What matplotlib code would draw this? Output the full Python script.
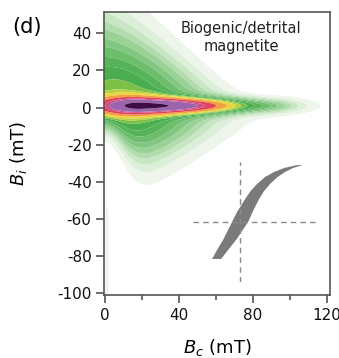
import numpy as np
import matplotlib
matplotlib.use("Agg")
import matplotlib.pyplot as plt

plt.rcParams['font.family'] = ['DejaVu Sans']
plt.rcParams['mathtext.fontset'] = 'dejavusans'

# FORC model: central ridge + broad interaction spread (parameters in mT)
ridge_peak = [20.0, 1.02]     # Bc of the maximum, height
ridge_left_sd = 15.8
ridge_core = [0.8, 47.0]      # plateau height, decay length to the right
ridge_tail = [0.22, 100.0, 7.0]  # long tail height, fade centre, fade width
ridge_width = [3.4, 2.5]      # Bi sigma near peak / far tail
ridge_bi0 = 1.0

broad_amp = 0.45
broad_centre = 8.0
broad_sc = 30.0
broad_up = [28.0, 95.0]        # sigma at Bc=0, Bc where it vanishes
broad_low = [18.0, 22.0, 110.0]
low_pinch = [0.65, 14.0]

strip_amp = 0.03

levels = [0.02, 0.05, 0.08, 0.11, 0.14, 0.18, 0.22, 0.27, 0.32, 0.38,
          0.44, 0.5, 0.6, 0.75, 0.9, 1.0, 1.3, 3.0]
band_colors = ['#eef6ec', '#dcefd8', '#c8e6c3', '#b2dcad', '#9ad296',
               '#82c781', '#6cbd6c', '#56b35a', '#4aae50', '#7cc048',
               '#b8d040', '#ecd43c', '#f0a040', '#e4405a', '#cc5088',
               '#9c64ac', '#3e0c44']

# hysteresis loop branches (inset units)
loop_up_h = [-28, -23, -17, -12.5, -8, -3, 4.5, 10.5, 17, 25, 34, 44, 56, 63]
loop_up_m = [-37, -28, -18, -9, 0, 10, 22, 31, 38, 45, 50, 54, 56.7, 57]
loop_dn_h = [-19, -12, -4, 2, 8, 13, 18.5, 24, 30, 37.5, 45, 53, 63]
loop_dn_m = [-37, -28, -18, -9, 0, 11, 22, 31, 38, 45, 50, 54, 57]

bc = np.linspace(-1, 122, 600)
bi = np.linspace(-102, 53, 600)
BC, BI = np.meshgrid(bc, bi)

left = ridge_peak[1] * np.exp(-0.5 * ((BC - ridge_peak[0]) / ridge_left_sd) ** 2)
d = np.clip(BC - ridge_peak[0], 0, None)
right = (ridge_core[0] * np.exp(-(d / ridge_core[1]) ** 3)
         + ridge_tail[0] / (1 + np.exp((BC - ridge_tail[1]) / ridge_tail[2])))
r = np.where(BC < ridge_peak[0], left, right)
w = ridge_width[1] + (ridge_width[0] - ridge_width[1]) * np.exp(-np.clip(BC, 0, None) / 60)
ridge = r * np.exp(-0.5 * ((BI - ridge_bi0) / w) ** 2)

h = broad_amp * np.exp(-0.5 * ((BC - broad_centre) / broad_sc) ** 2)
su = broad_up[0] * np.clip(1 - BC / broad_up[1], 0.02, None)
sl = broad_low[0] * np.clip(1 - (BC - broad_low[1]) / broad_low[2], 0.02, None)
sl = sl * (1 - low_pinch[0] * np.exp(-(np.clip(BC, 0, None) / low_pinch[1]) ** 2))
sig = np.where(BI > 0, su, sl)
broad = h * np.exp(-0.5 * (BI / sig) ** 2)

strip = strip_amp * np.exp(-0.5 * ((BC - 1.0) / 1.0) ** 2) / (1 + np.exp((BI + 52) / 2))

rho = ridge + broad + strip

fig = plt.figure(figsize=(3.39, 3.58), dpi=100)
ax = fig.add_axes([104 / 339, 63 / 358, 226 / 339, 283 / 358])
ax.contourf(BC, BI, rho, levels=levels, colors=band_colors, antialiased=True)

ax.set_xlim(-0.5, 121.5)
ax.set_ylim(-101, 51.5)
ax.set_xticks([0, 40, 80, 120])
ax.set_xticks([20, 60, 100], minor=True)
ax.set_yticks([40, 20, 0, -20, -40, -60, -80, -100])
ax.set_yticklabels(['40', '20', '0', '-20', '-40', '-60', '-80', '-100'])
ax.tick_params(which='both', direction='out', color='#444444', width=1.1,
               labelsize=11, labelcolor='#111111', pad=3)
ax.tick_params(which='major', length=6)
ax.tick_params(which='minor', length=3.6)
for sp in ax.spines.values():
    sp.set_color('#555555')
    sp.set_linewidth(1.2)

ax.set_xlabel(r'$B_c$ (mT)', fontsize=13)
ax.set_ylabel(r'$B_i$ (mT)', fontsize=13)
ax.xaxis.set_label_coords(0.5, -0.148)
ax.yaxis.set_label_coords(-0.33, 0.5)

ax.text(0.606, 0.91, 'Biogenic/detrital\nmagnetite', transform=ax.transAxes,
        ha='center', va='center', fontsize=10.5, linespacing=1.2, color='#222222')
fig.text(0.08, 0.925, '(d)', ha='center', va='center', fontsize=15)

# inset hysteresis loop
ins = ax.inset_axes([0.394, 0.046, 0.549, 0.424])
ins.set_xlim(-47, 77)
ins.set_ylim(-60, 60)
ins.axis('off')
ins.patch.set_alpha(0)
ins.axhline(0, color='#8a8a8a', lw=1, ls=(0, (4, 3)))
ins.axvline(0, color='#8a8a8a', lw=1, ls=(0, (4, 3)))
poly_h = loop_up_h[::-1] + loop_dn_h
poly_m = loop_up_m[::-1] + loop_dn_m
ins.fill(poly_h, poly_m, color='#7a7a7a', lw=0)

fig.savefig('out.png', dpi=100)
